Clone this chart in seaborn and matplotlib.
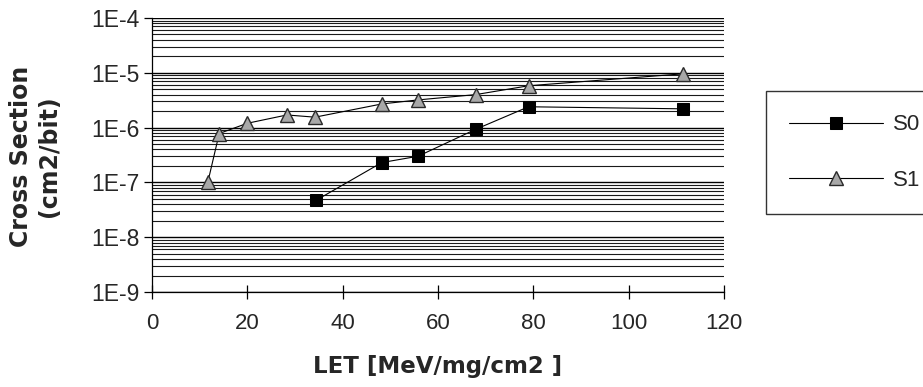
import matplotlib
matplotlib.use("Agg")
import matplotlib.pyplot as plt
from matplotlib.ticker import LogLocator, FixedLocator
import seaborn as sns
import pandas as pd
import numpy as np

# ---- data ----
s0_let = [34.4, 48.2, 55.8, 67.9, 79.0, 111.5]
s0_xs = [4.7e-8, 2.3e-7, 3.0e-7, 9.3e-7, 2.4e-6, 2.2e-6]
s1_let = [11.7, 14.1, 20.0, 28.3, 34.2, 48.2, 55.8, 67.9, 79.0, 111.5]
s1_xs = [1.0e-7, 7.8e-7, 1.2e-6, 1.7e-6, 1.55e-6, 2.7e-6, 3.2e-6, 4.0e-6, 5.8e-6, 9.6e-6]
series_names = ["S0", "S1"]
x_ticks = [0, 20, 40, 60, 80, 100, 120]
y_ticks = [1e-9, 1e-8, 1e-7, 1e-6, 1e-5, 1e-4]
y_tick_labels = ["1E-9", "1E-8", "1E-7", "1E-6", "1E-5", "1E-4"]
x_label = "LET [MeV/mg/cm2 ]"
y_label = "Cross Section\n(cm2/bit)"

df = pd.DataFrame({
    "LET": s0_let + s1_let,
    "xs": s0_xs + s1_xs,
    "series": [series_names[0]] * len(s0_let) + [series_names[1]] * len(s1_let),
})

sns.set_style("white")
plt.rcParams["font.family"] = ["Liberation Sans", "DejaVu Sans"]

W, H = 923, 387
fig = plt.figure(figsize=(W / 100, H / 100), dpi=100)
ax = fig.add_axes([152 / W, 1 - 292 / H, (724 - 152) / W, (292 - 18) / H])

ax.set_yscale("log")
ax.set_xlim(0, 120)
ax.set_ylim(1e-9, 1e-4)

# horizontal gridlines (decades and sub-decades)
ax.yaxis.set_major_locator(FixedLocator(y_ticks))
ax.yaxis.set_minor_locator(LogLocator(base=10, subs=np.arange(2, 10)))
ax.grid(True, which="major", axis="y", color="black", lw=1.0)
ax.grid(True, which="minor", axis="y", color="#1a1a1a", lw=0.8)
ax.grid(False, axis="x")
ax.set_axisbelow(True)

s0 = df[df["series"] == "S0"]
s1 = df[df["series"] == "S1"]
sns.lineplot(data=s0, x="LET", y="xs", ax=ax, color="black", lw=0.8,
             marker="s", markersize=8.5, markerfacecolor="black",
             markeredgecolor="black", label="S0", zorder=3)
sns.lineplot(data=s1, x="LET", y="xs", ax=ax, color="black", lw=0.8,
             marker="^", markersize=10, markerfacecolor="#a8a8a8",
             markeredgecolor="#2a2a2a", markeredgewidth=1.0, label="S1", zorder=3)

ax.set_xticks(x_ticks)
ax.set_xticklabels([str(t) for t in x_ticks])
ax.set_yticks(y_ticks)
ax.set_yticklabels(y_tick_labels)
ax.tick_params(axis="y", which="major", direction="out", length=6, width=0.9,
               color="black", labelsize=16.5, pad=3, left=True)
ax.tick_params(axis="y", which="minor", left=False)
ax.tick_params(axis="x", which="major", direction="inout", length=10, width=0.9,
               color="black", labelsize=16, pad=10, bottom=True)

for sp in ["top", "right"]:
    ax.spines[sp].set_visible(False)
for sp in ["left", "bottom"]:
    ax.spines[sp].set_color("black")
    ax.spines[sp].set_linewidth(0.9)

ax.set_xlabel("")
ax.set_ylabel("")
fig.text(438 / W, 1 - 366 / H, x_label, ha="center", va="center",
         fontsize=16.5, fontweight="bold", family="DejaVu Sans")
fig.text(35 / W, 1 - 156 / H, y_label, ha="center", va="center",
         rotation=90, fontsize=17, fontweight="bold", family="DejaVu Sans",
         linespacing=1.2)

leg = ax.get_legend()
if leg is not None:
    leg.remove()
handles, labels = ax.get_legend_handles_labels()
lg = fig.legend(handles, labels, loc="upper left",
                bbox_to_anchor=(766 / W, 1 - 91 / H), bbox_transform=fig.transFigure,
                frameon=True, fancybox=False, edgecolor="black", fontsize=16,
                handlelength=4.2, handletextpad=0.45, labelspacing=1.55,
                borderpad=1.05, borderaxespad=0)
lg.get_frame().set_linewidth(1.0)

fig.savefig("out.png", dpi=100)
